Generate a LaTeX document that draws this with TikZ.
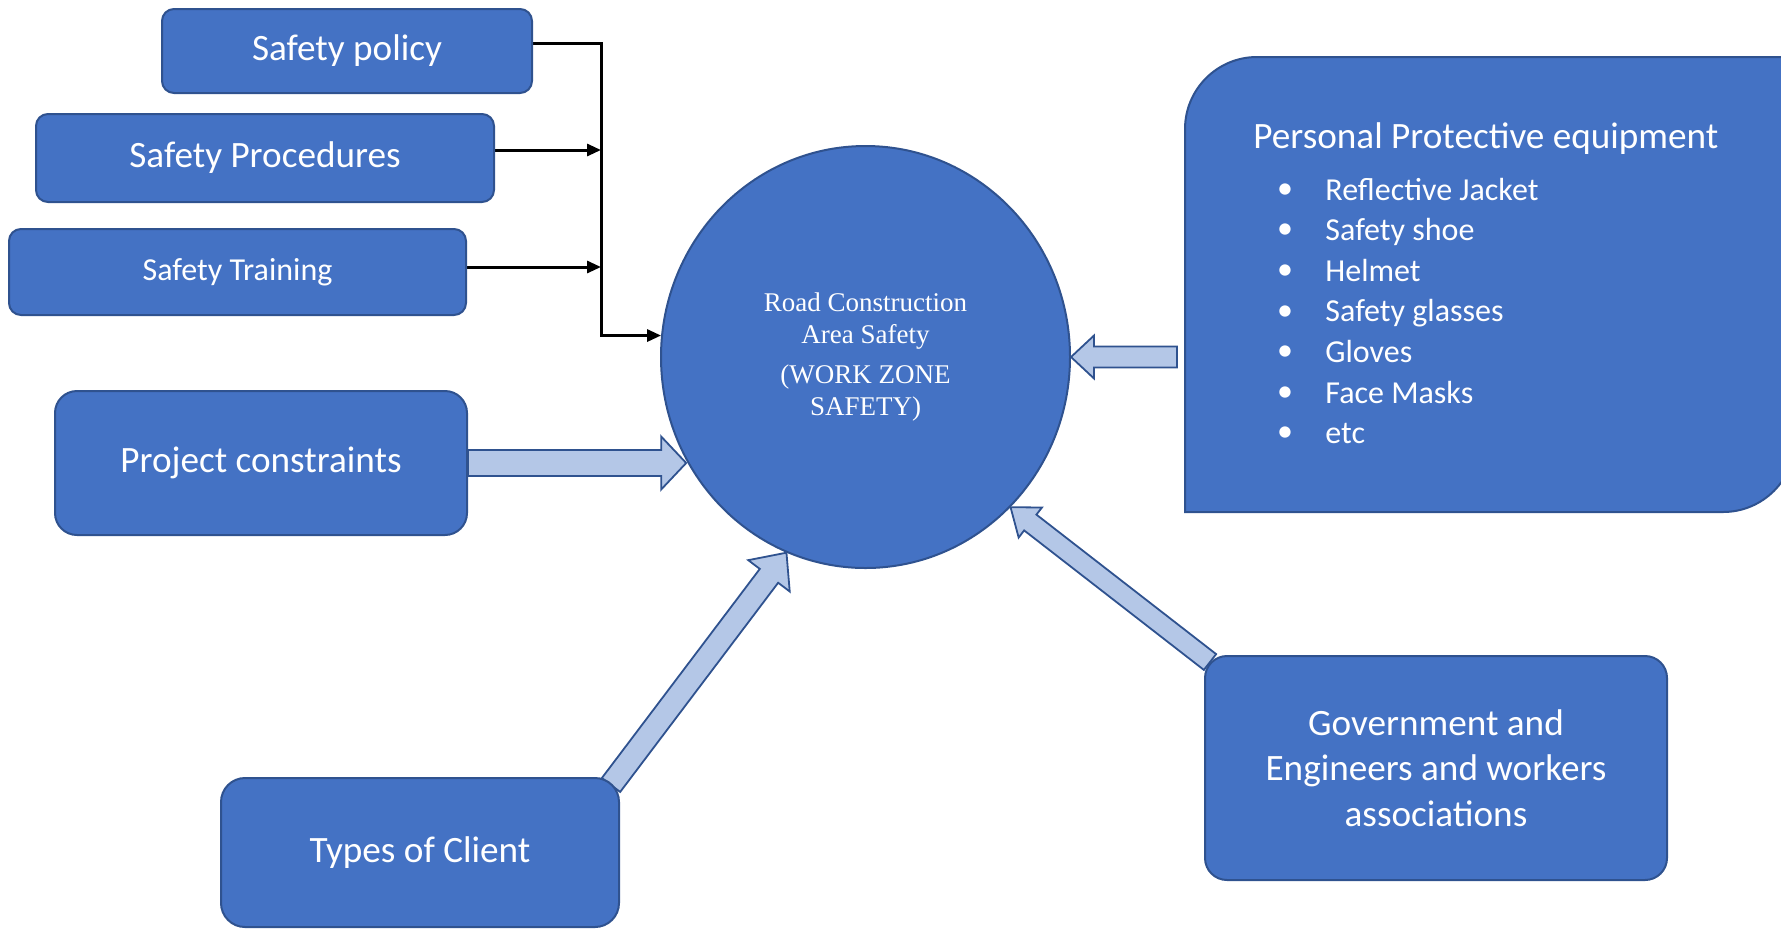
\documentclass[tikz,border=0pt]{standalone}
\usepackage{fontspec}
\setmainfont{Carlito}
\newfontfamily\timesfont{Liberation Serif}
\usetikzlibrary{arrows.meta,calc,backgrounds,shapes.geometric}
\definecolor{boxblue}{HTML}{4472C4}
\definecolor{boxline}{HTML}{2F528F}
\definecolor{paleblue}{HTML}{B4C7E7}

% block arrow: from, to, shaft half width, head half width, head length
\newcommand{\fatarrow}[5]{%
  \coordinate (fa-h) at ($(#2)!#5!(#1)$);
  \draw[fat] ($(#1)!#3!90:(#2)$) -- ($(fa-h)!#3!90:(#2)$) -- ($(fa-h)!#4!90:(#2)$) -- (#2)
    -- ($(fa-h)!#4!-90:(#2)$) -- ($(fa-h)!#3!-90:(#2)$) -- ($(#1)!#3!-90:(#2)$) -- cycle;}

\begin{document}
\begin{tikzpicture}[x=0.5pt,y=-0.5pt,
  box/.style={draw=boxline,line width=1pt,fill=boxblue,text=white,align=center,inner sep=0pt,rounded corners=6pt,font={\fontsize{18.6}{22.7}\selectfont}},
  bigbox/.style={box,rounded corners=11pt},
  feed/.style={-{Triangle[length=7pt,width=6pt]},line width=1.5pt,draw=black},
  fat/.style={draw=boxline,line width=0.9pt,fill=paleblue,line join=miter},
  item/.style={text=white,anchor=west,inner sep=0pt,text height=11pt,text depth=3pt,font={\fontsize{16}{19}\selectfont}}
]
\useasboundingbox (0,0) rectangle (1781,928);
\clip (0,0) rectangle (1781,928);

% left column
\node[box,minimum width=185pt,minimum height=42pt] (pol) at (347,51) {Safety policy};
\node[box,minimum width=229pt,minimum height=44pt] (proc) at (265,158) {Safety Procedures};
\node[box,minimum width=228.5pt,minimum height=43pt,font={\fontsize{16}{19}\selectfont}] (train) at (237.5,272) {Safety Training};
\node[bigbox,minimum width=206pt,minimum height=72pt] (proj) at (261,463) {Project constraints};
\node[bigbox,minimum width=199pt,minimum height=74.5pt,rounded corners=12pt] (types) at (420,852.5) {Types of Client};
\node[bigbox,minimum width=231pt,minimum height=112pt] (gov) at (1436,768) {Government and\\Engineers and workers\\associations};

% centre
\node[ellipse,draw=boxline,line width=1pt,fill=boxblue,minimum width=204.5pt,minimum height=211pt,inner sep=0pt,text=white,align=center,
  font={\timesfont\fontsize{13.5}{16.25}\selectfont}] (circ) at (865.5,357)
  {Road Construction\\Area Safety\\[3.5pt](WORK ZONE\\SAFETY)};

% PPE panel
\draw[draw=boxline,line width=1pt,fill=boxblue] (1185,512) -- (1185,129) arc[start angle=180,end angle=90,radius=36pt]
  -- (1795,57) -- (1795,440) arc[start angle=0,end angle=-90,radius=36pt] -- cycle;
\node[anchor=west,inner sep=0pt,text=white,font={\fontsize{18.6}{22.7}\selectfont}] (ppe) at (1253,138.5) {Personal Protective equipment};
\foreach \txt [count=\i] in {Reflective Jacket,Safety shoe,Helmet,Safety glasses,Gloves,Face Masks,etc}{
  \node[item] (ppe\i) at (1325,{192+40.6*(\i-1)}) {\txt};
  \node[text=white,inner sep=0pt,font={\fontsize{16}{19}\selectfont}] (bul\i) at (1285,{191+40.6*(\i-1)}) {\textbullet};
}

% feeders
\coordinate (bus) at (601,0);
\coordinate (procout) at ([yshift=4pt]proc.east);
\coordinate (trainout) at ([yshift=2.5pt]train.east);
\begin{scope}[on background layer]
\draw[feed] ([yshift=4pt]pol.east) -| (bus |- circ.174) -- (circ.174);
\draw[feed] (procout) -- (procout -| bus);
\draw[feed] (trainout) -- (trainout -| bus);

% block arrows
\coordinate (projtip) at (proj.east -| circ.210);
\coordinate (ppefoot) at (1177,357);
\coordinate (typesfoot) at ($(types.north east)+(-9,8)$);
\coordinate (govfoot) at ($(gov.north west)+(6,7)$);
\fatarrow{proj.east}{projtip}{6.5pt}{13.25pt}{12.5pt}
\fatarrow{ppefoot}{circ.east}{5.25pt}{10.75pt}{11.5pt}
\fatarrow{typesfoot}{circ.248}{5.75pt}{13pt}{14.5pt}
\fatarrow{govfoot}{circ.-46}{5pt}{9.5pt}{12.5pt}
\end{scope}
\end{tikzpicture}
\end{document}
